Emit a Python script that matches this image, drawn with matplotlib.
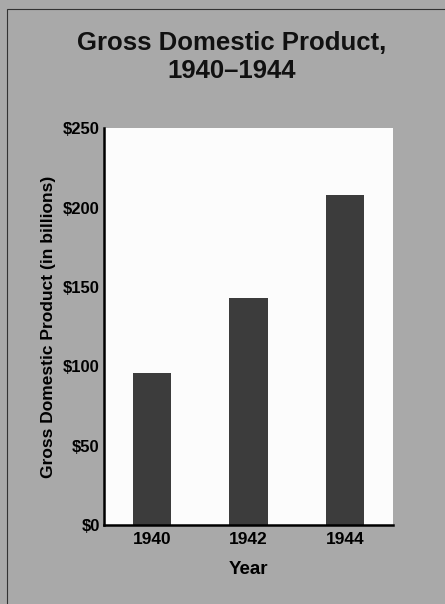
import matplotlib.pyplot as plt
from matplotlib.patches import Rectangle

years = ["1940", "1942", "1944"]
gdp = [96, 143, 208]
y_ticks = [0, 50, 100, 150, 200, 250]
y_tick_labels = ["$0", "$50", "$100", "$150", "$200", "$250"]

sans = ["Liberation Sans", "DejaVu Sans"]

fig = plt.figure(figsize=(4.45, 6.04), dpi=100)
fig.patch.set_facecolor("#a9a9a9")

# thin frame around the page
fig.patches.append(Rectangle((0.016, -0.01), 1.1, 0.995, transform=fig.transFigure,
                             fill=False, edgecolor="#333333", linewidth=0.8))

ax = fig.add_axes([0.2337, 0.1308, 0.6494, 0.657])
ax.set_facecolor("#fcfcfc")
ax.bar(range(len(years)), gdp, width=0.4, color="#3c3c3c")

ax.set_xlim(-0.5, 2.5)
ax.set_ylim(0, 250)
ax.set_xticks(range(len(years)))
ax.set_xticklabels(years, family=sans, fontsize=12.5, fontweight="bold")
ax.set_yticks(y_ticks)
ax.set_yticklabels(y_tick_labels, family=sans, fontsize=12, fontweight="bold")
ax.tick_params(length=0, pad=3)
ax.tick_params(axis="x", pad=5)

for s in ["top", "right"]:
    ax.spines[s].set_visible(False)
ax.spines["left"].set_linewidth(1.8)
ax.spines["bottom"].set_linewidth(1.8)

ax.set_ylabel("Gross Domestic Product (in billions)", family=sans, fontsize=12.5,
              fontweight="bold", labelpad=5)
ax.set_xlabel("Year", family=sans, fontsize=13.5, fontweight="bold", labelpad=10)

fig.text(0.52, 0.905, "Gross Domestic Product,\n1940\u20131944", ha="center", va="center",
         fontsize=18.5, fontweight="bold", family=sans,
         linespacing=1.2, color="#111111")

fig.savefig("out.png", dpi=100, facecolor=fig.get_facecolor())
